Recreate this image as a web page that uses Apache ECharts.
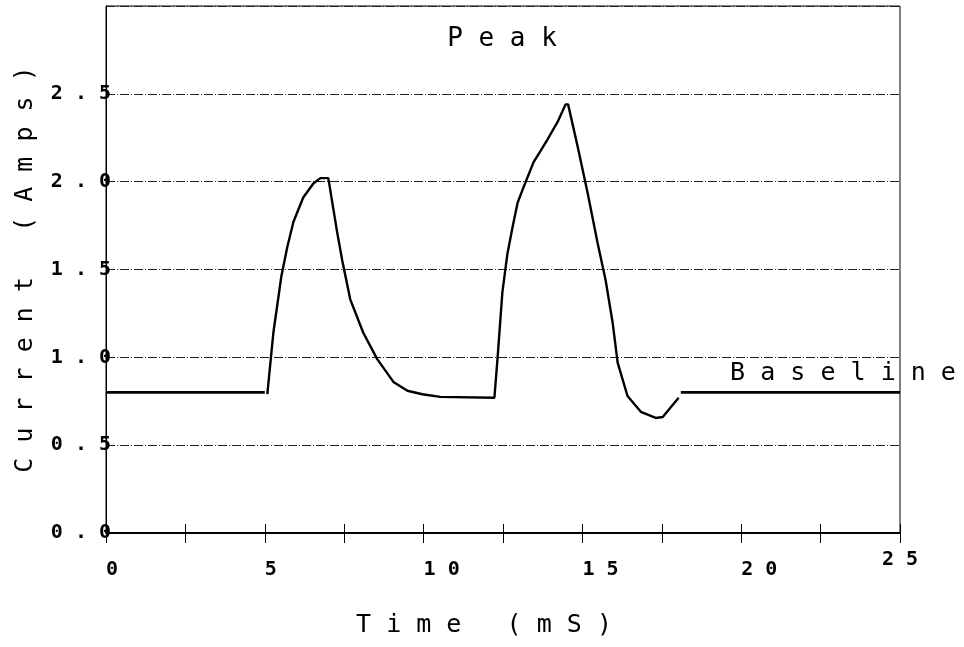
<!DOCTYPE html>
<html>
<head>
<meta charset="utf-8">
<script src="https://cdn.jsdelivr.net/npm/echarts@6/dist/echarts.min.js"></script>
<style>
  html, body { margin: 0; padding: 0; background: #fff; }
  #chart { width: 964px; height: 647px; }
</style>
</head>
<body>
<div id="chart"></div>
<script>
// values (time in mS, current in Amps)
var pulseTime = [5.08, 5.27, 5.52, 5.71, 5.90, 6.21, 6.53, 6.75, 7.0, 7.28, 7.44, 7.69, 8.10, 8.54, 9.05, 9.49, 9.96, 10.53,
  12.23, 12.33, 12.48, 12.64, 12.80, 12.96, 13.15, 13.46, 13.90, 14.22, 14.47, 14.55, 14.85, 15.16, 15.48, 15.73, 15.95,
  16.11, 16.42, 16.84, 17.31, 17.53, 18.03];
var pulseCurrent = [0.79, 1.14, 1.46, 1.63, 1.77, 1.91, 1.99, 2.02, 2.02, 1.71, 1.55, 1.33, 1.14, 0.99, 0.86, 0.81, 0.79, 0.775,
  0.77, 1.00, 1.37, 1.59, 1.74, 1.88, 1.97, 2.11, 2.24, 2.34, 2.44, 2.44, 2.20, 1.94, 1.65, 1.44, 1.20,
  0.97, 0.78, 0.69, 0.655, 0.66, 0.77];
var baseTime = [0, 5.0, null, 18.1, 25];
var baseCurrent = [0.80, 0.80, null, 0.80, 0.80];
var yTicks = [0, 0.5, 1.0, 1.5, 2.0, 2.5];
var xTicks = [0, 5, 10, 15, 20, 25];

(function () {
  var spaced = function (s) {
    return s.split("").join(" ");
  };
  var pairs = function (xs, ys) {
    return xs.map(function (x, i) {
      return x === null ? ["-", "-"] : [x, ys[i]];
    });
  };
  var mono = "DejaVu Sans Mono";

  var option = {
    animation: false,
    backgroundColor: "#fff",
    grid: {
      left: 106,
      right: 64,
      top: 6,
      bottom: 114,
      show: true,
      borderColor: "#000",
      borderWidth: 1,
    },
    xAxis: [
      {
        type: "value",
        min: 0,
        max: 25,
        interval: 2.5,
        position: "bottom",
        name: spaced("Time (mS)"),
        nameLocation: "middle",
        nameGap: 80,
        nameTextStyle: {
          fontFamily: mono,
          fontSize: 25,
          color: "#000",
          padding: [0, 38, 0, 0],
        },
        axisLine: { onZero: false, lineStyle: { color: "#000", width: 2 } },
        axisTick: { show: true, length: 10, lineStyle: { color: "#000", width: 1 } },
        axisLabel: {
          margin: 27,
          align: "left",
          alignMaxLabel: "center",
          verticalAlignMaxLabel: "middle",
          fontFamily: mono,
          fontWeight: "bold",
          fontSize: 20,
          color: "#000",
          formatter: function (v) {
            return xTicks.indexOf(v) >= 0 ? spaced(String(v)) : "";
          },
        },
        splitLine: { show: false },
      },
      {
        type: "value",
        min: 0,
        max: 25,
        interval: 2.5,
        position: "bottom",
        axisLine: { show: false, onZero: false },
        axisTick: { show: true, inside: true, length: 9, lineStyle: { color: "#000", width: 1 } },
        axisLabel: { show: false },
        splitLine: { show: false },
      },
    ],
    yAxis: {
      type: "value",
      min: 0,
      max: 3,
      interval: 0.5,
      name: spaced("Current (Amps)"),
      nameLocation: "middle",
      nameGap: 68,
      nameRotate: 90,
      nameTextStyle: { fontFamily: mono, fontSize: 25, color: "#000" },
      axisLine: { show: true, onZero: false, lineStyle: { color: "#000", width: 1 } },
      axisTick: { show: false },
      axisLabel: {
        margin: -5,
        fontFamily: mono,
        fontWeight: "bold",
        fontSize: 20,
        color: "#000",
        formatter: function (v) {
          return yTicks.indexOf(v) >= 0 ? spaced(v.toFixed(1)) : "";
        },
      },
      splitLine: {
        show: true,
        lineStyle: { color: "#222", width: 1, type: [9, 2, 1, 2] },
      },
    },
    graphic: [
      {
        type: "text",
        x: 502,
        y: 39,
        style: {
          text: spaced("Peak"),
          font: "26px " + mono,
          fill: "#000",
          align: "center",
          verticalAlign: "middle",
        },
      },
      {
        type: "text",
        x: 843,
        y: 373,
        style: {
          text: spaced("Baseline"),
          font: "25px " + mono,
          fill: "#000",
          align: "center",
          verticalAlign: "middle",
        },
      },
    ],
    series: [
      {
        type: "line",
        data: pairs(pulseTime, pulseCurrent),
        showSymbol: false,
        lineStyle: { color: "#000", width: 2.4 },
        z: 3,
      },
      {
        type: "line",
        data: pairs(baseTime, baseCurrent),
        showSymbol: false,
        connectNulls: false,
        lineStyle: { color: "#000", width: 2.8 },
        z: 3,
      },
    ],
  };
  var myChart = echarts.init(document.getElementById("chart"));
  myChart.setOption(option);
})();
</script>
</body>
</html>
